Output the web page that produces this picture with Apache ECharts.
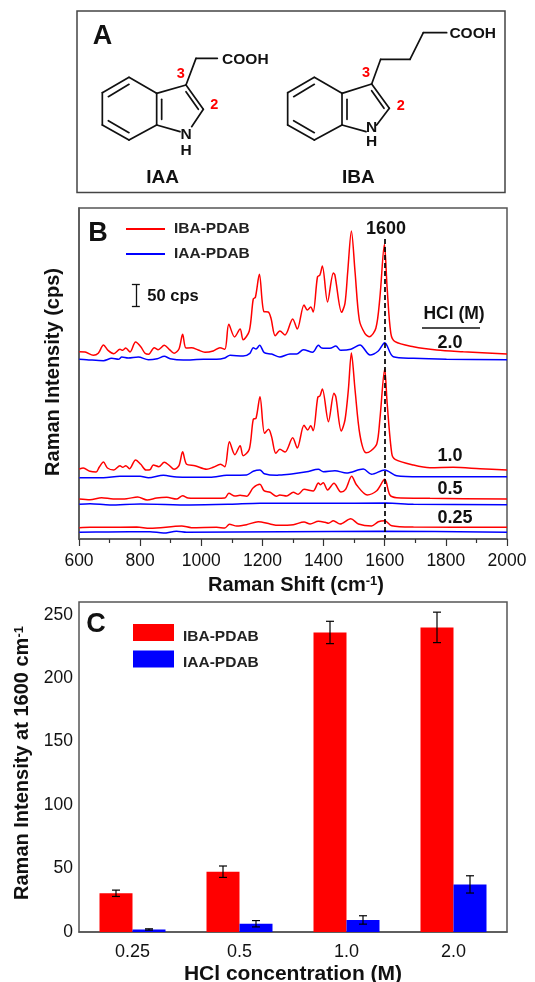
<!DOCTYPE html>
<html><head><meta charset="utf-8">
<style>html,body{margin:0;padding:0;background:#fff}#c{width:535px;height:982px}</style>
<script src="https://cdn.jsdelivr.net/npm/echarts@6/dist/echarts.min.js"></script>
</head><body><div id="c"></div>
<script>
// Panel B: [Raman shift cm-1, height above the axis; 22 units = 50 cps scale bar]
const iba20=[[601,187.3],[620,187],[647,183.7],[663,185.7],[680,194],[696,188.3],[714,185.3],[734,189.7],[743,188.7],[753,191],[767,187],[785,197],[802,192.3],[816,185.7],[828,184.7],[846,191.3],[859,189.3],[879,193.7],[895,189.7],[911,185.7],[927,190],[939,204.7],[950,191],[968,191.3],[990,189],[1012,186.7],[1039,188],[1061,191.3],[1077,189.7],[1090,214.7],[1109,202],[1127,210],[1137,199.3],[1157,208],[1170,240],[1177,241.7],[1190,264.7],[1205,227.3],[1219,227],[1228,220.7],[1242,203.3],[1257,208],[1274,204],[1299,220],[1314,210],[1336,234],[1347,229],[1358,232],[1366,227],[1380,262],[1388,264],[1396,273],[1413,237],[1432,266],[1437,264],[1459,226.7],[1470,235.7],[1479,267.3],[1491,308],[1503,267],[1517,219],[1535,205.7],[1550,202.3],[1571,210.7],[1584,240.7],[1599,294.7],[1608,250.7],[1620,205.7],[1634,197.3],[1694,192.3],[1770,189],[1857,187.3],[2000,185]];
const iaa20=[[601,179.7],[625,179.3],[680,178.3],[707,180.7],[729,179.7],[740,182],[761,181],[794,182],[827,179.3],[856,180.3],[879,182.7],[898,180.3],[941,179],[1007,179.7],[1050,179.7],[1077,181],[1094,183.7],[1137,183],[1159,185.7],[1170,191.3],[1179,190],[1191,193.7],[1206,186.3],[1230,185],[1257,182],[1290,185],[1312,185],[1334,189.3],[1364,186.7],[1383,193.7],[1394,191],[1421,190.7],[1440,193],[1456,188.7],[1489,189.7],[1519,194],[1552,184],[1579,188],[1600,196.3],[1628,182.3],[1694,180.7],[1802,179.7],[2000,179.3]];
const iba10=[[601,70],[614,71],[636,67.7],[656,67],[666,71.7],[680,77],[693,71],[714,69],[734,73.3],[743,71.7],[753,73.3],[765,70.3],[785,79],[802,74.7],[819,69],[832,69.3],[843,74],[861,72.3],[879,76.7],[895,73.7],[911,69.7],[927,73.3],[939,87.3],[952,74.7],[979,73.3],[1018,69.7],[1039,71.7],[1063,74.7],[1077,72.3],[1092,97.3],[1110,84.3],[1127,93.3],[1137,83.3],[1157,89.7],[1170,119.7],[1179,120.7],[1192,142.3],[1207,105.7],[1220,109.7],[1230,102.3],[1244,85.7],[1257,89.7],[1274,87],[1299,101.3],[1314,91],[1336,113.7],[1348,109],[1358,113.3],[1366,108.3],[1381,141.7],[1388,143],[1396,150],[1416,117.3],[1434,145.7],[1440,142.3],[1458,108],[1470,119],[1481,149],[1491,186],[1503,149],[1519,104],[1539,86.3],[1554,88],[1574,95],[1584,119],[1600,170],[1608,135.7],[1623,85.7],[1634,79.7],[1694,74],[1748,71.3],[1824,71.7],[1912,70.3],[2000,69]];
const iaa10=[[601,61.3],[680,61.3],[734,62.7],[800,62.7],[827,61.3],[876,63.7],[919,62],[1028,61.7],[1083,63.7],[1148,64],[1170,67.7],[1192,69],[1206,65.3],[1246,63.7],[1257,64],[1301,65.3],[1345,67.3],[1383,69.7],[1399,67.3],[1437,68.3],[1475,66],[1530,70],[1557,64.7],[1600,69],[1639,63.3],[1715,62.3],[2000,62.3]];
const iba05=[[601,40],[636,39.3],[674,41.3],[712,40],[756,40.3],[792,42],[823,39],[854,41],[887,41.7],[919,40],[939,43.3],[957,41],[1007,40.7],[1077,41],[1090,45.7],[1110,43],[1127,43.7],[1148,42.7],[1170,51.3],[1192,54.7],[1205,48.3],[1225,46.7],[1246,42.7],[1257,44],[1279,43],[1301,46.7],[1317,44.7],[1336,49.7],[1366,48],[1383,56],[1390,54.3],[1399,56.3],[1413,49],[1434,55.7],[1457,47],[1472,49.7],[1492,62.7],[1508,54],[1543,44],[1574,48.3],[1600,59.7],[1617,44],[1639,41.3],[1748,40.7],[2000,40]];
const iaa05=[[601,34.7],[636,35.3],[701,34],[800,35],[963,34],[1094,34.7],[1192,35.7],[1399,35.7],[1606,36],[1694,34.7],[2000,34.3]];
const iba025=[[601,11.3],[636,11.7],[680,11.7],[789,12],[832,10.7],[936,13],[968,11.3],[1050,11.7],[1077,11],[1092,14.7],[1116,13],[1148,14.3],[1186,17.3],[1225,15],[1252,13.7],[1301,14.3],[1336,17],[1356,15],[1383,17.7],[1405,16.7],[1416,15.7],[1432,18.3],[1454,15],[1489,20.3],[1514,15],[1557,13],[1579,17.3],[1600,18.3],[1623,13.3],[1694,12],[2000,11.7]];
const iaa025=[[601,6.7],[696,7],[832,7.3],[876,6],[919,7.7],[952,6.7],[1584,7.7],[2000,6.7]];
// Panel C
const concentrations=['0.25','0.5','1.0','2.0'];
const ibaBars=[30.5,47.5,236,240];
const iaaBars=[2,6.5,9.5,37.5];
const ibaErr=[2.5,4.5,8.8,12];
const iaaErr=[0.5,2.5,3.3,6.8];
const yTicks=[0,50,100,150,200,250];
const yMinorTicks=[25,75,125,175,225];

const FONT='"Liberation Sans", Arial, sans-serif', INK='#111', FRAME='#555';
const chart=echarts.init(document.getElementById('c'),null,{renderer:'canvas'});
const lineSeries=(name,data,color,extra)=>Object.assign({name,type:'line',xAxisIndex:0,yAxisIndex:0,data,symbol:'none',smooth:0.3,silent:true,animation:false,lineStyle:{color,width:1.5},itemStyle:{color}},extra||{});
const axisLine={lineStyle:{color:FRAME,width:1.5}};
const axisTick=(length)=>({length,lineStyle:{color:'#333',width:1.2}});
const errSeries=(vals,errs,sign)=>({type:'custom',xAxisIndex:1,yAxisIndex:1,silent:true,animation:false,z:5,
  data:vals.map((v,i)=>[i,v-errs[i],v+errs[i]]),
  renderItem:(p,api)=>{
    const x=api.coord([api.value(0),0])[0]+sign*16.5;
    const y0=api.coord([api.value(0),api.value(1)])[1], y1=api.coord([api.value(0),api.value(2)])[1];
    const st={stroke:'#000',lineWidth:1.2,fill:null};
    return {type:'group',children:[
      {type:'line',shape:{x1:x,y1:y0,x2:x,y2:y1},style:st},
      {type:'line',shape:{x1:x-4,y1:y0,x2:x+4,y2:y0},style:st},
      {type:'line',shape:{x1:x-4,y1:y1,x2:x+4,y2:y1},style:st}]};
  }});

// Panel A drawing helpers
const P=(x,y)=>[60+x/3,y/3];
const bond=(a,b,c,d)=>{const s=P(a,b),e=P(c,d);return {type:'line',silent:true,shape:{x1:s[0],y1:s[1],x2:e[0],y2:e[1]},style:{stroke:'#111',lineWidth:1.7,lineCap:'round'}};};
const poly=(pts)=>{const out=[];for(let i=0;i<pts.length-1;i++)out.push(bond(pts[i][0],pts[i][1],pts[i+1][0],pts[i+1][1]));return out;};
const txt=(s,x,y,size,opt)=>({type:'text',silent:true,x,y,style:Object.assign({text:s,font:`bold ${size}px ${FONT}`,fill:INK,align:'center',verticalAlign:'middle'},opt||{})});
const ztxt=(s,a,b,size,opt)=>{const p=P(a,b);return txt(s,p[0],p[1],size,opt);};
const molecule=(dx,five,inner,chain,nPos,hPos,threePos,twoPos,coohPos,name,namePos)=>[
  ...poly([[207+dx,232],[290+dx,280],[290+dx,375],[207+dx,420],[127+dx,375],[127+dx,278],[207+dx,232]]),
  bond(207+dx,253,145+dx,290),bond(145+dx,362,207+dx,398),bond(305+dx,298,305+dx,358),
  ...poly(five),bond(...inner),...poly(chain),
  ztxt('N',nPos[0],nPos[1],15.5),ztxt('H',hPos[0],hPos[1],15.5),
  ztxt('3',threePos[0],threePos[1],14.5,{fill:'#f00'}),ztxt('2',twoPos[0],twoPos[1],14.5,{fill:'#f00'}),
  ztxt('COOH',coohPos[0],coohPos[1],15.5),ztxt(name,namePos[0],namePos[1],19)];

const graphics=[
  {type:'rect',silent:true,shape:{x:77,y:11,width:428,height:181.5},style:{fill:null,stroke:'#444',lineWidth:1.5}},
  txt('A',102.5,37,27),
  ...molecule(0,[[290,280],[378,255],[430,328],[395,380]],[378,275,415,328],[[378,255],[408,175],[472,175]],[378,405],[378,452],[362,222],[463,315],[556,178],'IAA',[308,532]),
  bond(290,375,360,395),
  ...molecule(556,[[846,280],[935,252],[988,325],[950,375]],[935,272,972,325],[[935,252],[962,178],[1050,178],[1090,98],[1160,98]],[935,382],[935,425],[918,220],[1022,318],[1238,100],'IBA',[895,532]),
  bond(846,375,918,395),
  txt('B',98,234,27),
  txt('50 cps',173,296,16.5),
  txt('1600',386,229,18),
  txt('HCl (M)',454,314,17.5),
  {type:'line',silent:true,shape:{x1:422,y1:328,x2:480,y2:328},style:{stroke:'#111',lineWidth:1.5}},
  txt('2.0',450,343,18),txt('1.0',450,456,18),txt('0.5',450,489,18),txt('0.25',455,518,18),
  txt('C',96,625,27)
];

const sup=(size)=>({a:{fontFamily:FONT,fontWeight:'bold',fontSize:size,color:INK},s:{fontFamily:FONT,fontWeight:'bold',fontSize:size*0.65,color:INK,verticalAlign:'top',lineHeight:size}});

chart.setOption({
  animation:false,backgroundColor:'#fff',
  grid:[
    {left:79,top:208,width:428,height:331,outerBoundsMode:'none',show:true,borderColor:FRAME,borderWidth:1.5,backgroundColor:'transparent'},
    {left:79,top:602,width:428,height:330,outerBoundsMode:'none',show:true,borderColor:FRAME,borderWidth:1.5,backgroundColor:'transparent'}
  ],
  xAxis:[
    {type:'value',gridIndex:0,min:600,max:2000,interval:200,splitLine:{show:false},axisLine,axisTick:axisTick(7),
     minorTick:{show:true,splitNumber:2,length:4,lineStyle:{color:'#333',width:1.2}},
     axisLabel:{fontFamily:FONT,fontSize:17.5,color:INK,margin:13,showMaxLabel:true,showMinLabel:true,formatter:v=>String(v)},
     name:'{a|Raman Shift (cm}{s|-1}{a|)}',nameLocation:'middle',nameGap:36,nameTextStyle:{rich:sup(20),padding:[0,0,0,6]}},
    {type:'category',gridIndex:1,data:concentrations,axisLine,axisTick:Object.assign(axisTick(7),{alignWithLabel:true}),
     axisLabel:{fontFamily:FONT,fontSize:18,color:INK,margin:11},
     name:'HCl concentration (M)',nameLocation:'middle',nameGap:32,nameTextStyle:{fontFamily:FONT,fontWeight:'bold',fontSize:21,color:INK}},
    {type:'category',gridIndex:1,data:concentrations,axisLine:{show:false},axisTick:axisTick(4),axisLabel:{show:false},position:'bottom'}
  ],
  yAxis:[
    {type:'value',gridIndex:0,min:0,max:331,splitLine:{show:false},axisLine,axisTick:{show:false},axisLabel:{show:false},
     name:'Raman Intensity (cps)',nameLocation:'middle',nameGap:16,nameRotate:90,
     nameTextStyle:{fontFamily:FONT,fontWeight:'bold',fontSize:20,color:INK,padding:[0,0,0,3]}},
    {type:'value',gridIndex:1,min:0,max:260,splitLine:{show:false},axisLine,
     axisTick:Object.assign(axisTick(7),{customValues:yTicks}),
     axisLabel:{fontFamily:FONT,fontSize:17.5,color:INK,margin:6,customValues:yTicks},
     name:'{a|Raman Intensity at 1600 cm}{s|-1}',nameLocation:'middle',nameGap:32,nameRotate:90,nameTextStyle:{rich:sup(20),padding:[0,0,0,8]}},
    {type:'value',gridIndex:1,min:0,max:260,position:'left',splitLine:{show:false},axisLine:{show:false},axisLabel:{show:false},
     axisTick:Object.assign(axisTick(4),{customValues:yMinorTicks})}
  ],
  legend:[
    {data:['IBA-PDAB','IAA-PDAB'],orient:'vertical',left:126,top:221,padding:0,itemWidth:39,itemHeight:2,itemGap:9,icon:'rect',selectedMode:false,
     textStyle:{fontFamily:FONT,fontWeight:'bold',fontSize:15.5,color:'#222',padding:[0,0,0,4]}},
    {data:['IBA-PDAB','IAA-PDAB'],orient:'vertical',left:133,top:624,padding:0,itemWidth:41,itemHeight:17,itemGap:6,icon:'rect',selectedMode:false,
     formatter:n=>`{t|${n}}`,
     textStyle:{rich:{t:{fontFamily:FONT,fontWeight:'bold',fontSize:15.5,color:'#222',padding:[8,0,0,4]}}}}
  ],
  graphic:graphics,
  series:[
    lineSeries('IBA-PDAB',iba20,'#ff0000'),
    lineSeries('IAA-PDAB',iaa20,'#0000ff'),
    lineSeries('IBA-PDAB',iba10,'#ff0000'),
    lineSeries('IAA-PDAB',iaa10,'#0000ff'),
    lineSeries('IBA-PDAB',iba05,'#ff0000'),
    lineSeries('IAA-PDAB',iaa05,'#0000ff'),
    lineSeries('IBA-PDAB',iba025,'#ff0000'),
    lineSeries('IAA-PDAB',iaa025,'#0000ff',{
      markLine:{silent:true,symbol:'none',animation:false,label:{show:false},z:10,data:[
        [{coord:[1600,300],lineStyle:{color:'#000',type:[5,3],width:1.7}},{coord:[1600,1]}],
        [{coord:[786,233],lineStyle:{color:'#111',type:'solid',width:1.3}},{coord:[786,255]}],
        [{coord:[773,233],lineStyle:{color:'#111',type:'solid',width:1.3}},{coord:[799,233]}],
        [{coord:[773,255],lineStyle:{color:'#111',type:'solid',width:1.3}},{coord:[799,255]}]
      ]}}),
    {name:'IBA-PDAB',type:'bar',xAxisIndex:1,yAxisIndex:1,data:ibaBars,barWidth:33,barGap:'0%',itemStyle:{color:'#ff0000'},silent:true,animation:false},
    {name:'IAA-PDAB',type:'bar',xAxisIndex:1,yAxisIndex:1,data:iaaBars,barWidth:33,barGap:'0%',itemStyle:{color:'#0000ff'},silent:true,animation:false},
    errSeries(ibaBars,ibaErr,-1),
    errSeries(iaaBars,iaaErr,1)
  ]
});
</script></body></html>
